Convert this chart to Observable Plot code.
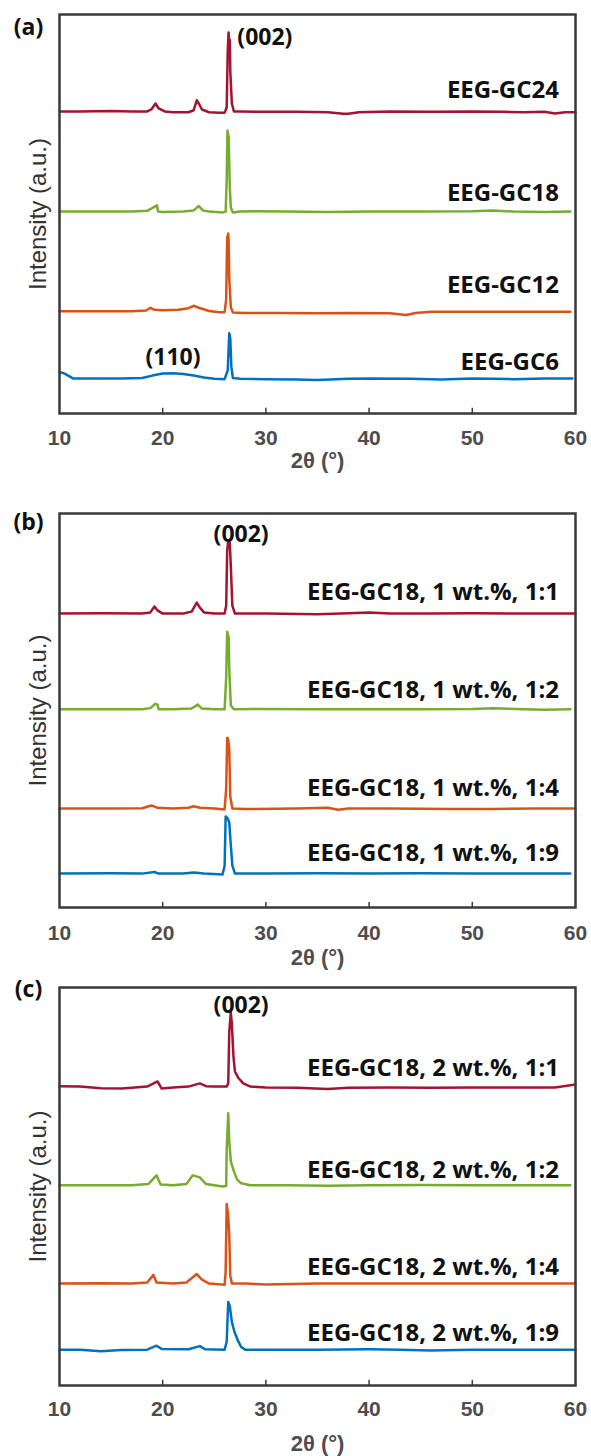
<!DOCTYPE html>
<html>
<head>
<meta charset="utf-8">
<script src="https://cdn.jsdelivr.net/npm/d3@7"></script>
<script src="https://cdn.jsdelivr.net/npm/@observablehq/plot@0.6"></script>
<style>
  html, body { margin: 0; padding: 0; background: white; }
  #chart { width: 591px; }
  #chart svg { display: block; }
  g[aria-label="series-labels"] text { letter-spacing: 0.4px; word-spacing: 3px; }
  g[aria-label="peak-labels"] text, g[aria-label="tag"] text { letter-spacing: 0.5px; }
  g[aria-label="xtitle"] text { letter-spacing: 0.5px; }
</style>
</head>
<body>
<div id="chart"></div>
<script>
// ---------- shared ----------
const xTicks = [10, 20, 30, 40, 50, 60];
const innerTicks = [20, 30, 40, 50];
const seriesColors = ["#A2142F", "#77AC30", "#D95319", "#0072BD"];

// ---------- panel (a) ----------
const aLabels = ["EEG-GC24", "EEG-GC18", "EEG-GC12", "EEG-GC6"];
const aBaselines = [75.7, 50.6, 25.6, 8.8];
const aLabelY = [81, 55.1, 32.1, 12.8];
const aGC24 = [[10,0],[12,0],[15,0.1],[17,0],[18.5,0],[18.9,0.5],[19.3,2.0],[19.6,0.8],[20.2,0],[21,-0.2],[22.5,-0.2],[23.0,0.3],[23.3,2.8],[23.5,2.0],[23.8,0.5],[24.5,-0.2],[25.5,-0.3],[26.0,-0.3],[26.2,1],[26.3,15],[26.38,19.8],[26.42,18.2],[26.5,18],[26.55,10],[26.7,2],[26.9,0],[27.5,0],[30,-0.1],[33,-0.1],[36,-0.2],[37.5,-0.6],[38,-0.6],[39,-0.2],[42,0],[46,-0.1],[50,0],[53,-0.1],[55,-0.2],[57,-0.1],[58,-0.5],[59,-0.2],[60,-0.2]];
const aGC18 = [[10,0],[14,0],[17,0],[18.5,0.2],[19.2,1.2],[19.45,1.6],[19.55,0],[20,-0.1],[22,0],[23.0,0.3],[23.5,1.4],[23.9,0.3],[24.5,0],[25.8,-0.2],[26.1,0],[26.2,8],[26.28,20.3],[26.4,18.5],[26.45,12],[26.5,6],[26.6,1],[26.8,-0.2],[27.5,0],[29,0.1],[32,0],[36,-0.1],[40,0],[45,0],[50,0.1],[52,0.3],[54,0],[57,-0.1],[59.5,0]];
const aGC12 = [[10,0],[14,0],[17,0],[18.4,0.2],[18.8,0.9],[19.2,0.4],[20,0.3],[21.5,0.4],[22.5,0.8],[23.0,1.4],[23.5,0.9],[24.5,0.1],[25.5,-0.2],[26.0,-0.2],[26.15,3],[26.25,18.5],[26.35,19.5],[26.4,17],[26.45,8],[26.6,1],[26.8,-0.3],[28,-0.4],[31,-0.4],[35,-0.5],[38,-0.4],[42,-0.5],[43.6,-0.9],[44.5,-0.4],[46,-0.1],[50,-0.1],[55,-0.1],[59.5,-0.1]];
const aGC6 = [[10,1.6],[10.5,1.2],[11.3,0],[13,0],[16,0],[18,0.1],[19,0.7],[20,1.2],[21,1.3],[22,1.1],[23,0.7],[24,0.2],[25,-0.1],[26,-0.2],[26.3,2],[26.45,11.3],[26.55,10],[26.65,3],[26.8,0.1],[27.5,-0.1],[30,-0.2],[33,-0.3],[35,-0.4],[38,-0.1],[40,0],[44,-0.1],[47,-0.3],[50,0],[54,-0.2],[57,0],[59.7,0]];
const aPeakLabels = ["(002)", "(110)"];
const aPeakX = [29.9, 21.0];
const aPeakY = [94.2, 14.0];

// ---------- panel (b) ----------
const bLabels = ["EEG-GC18, 1 wt.%, 1:1", "EEG-GC18, 1 wt.%, 1:2", "EEG-GC18, 1 wt.%, 1:4", "EEG-GC18, 1 wt.%, 1:9"];
const bBaselines = [74.6, 50.3, 25.1, 8.6];
const bLabelY = [79.9, 55.1, 30.2, 13.7];
const b11 = [[10,0],[14,0.1],[18,0],[18.8,0.3],[19.2,1.8],[19.5,0.8],[20,0],[22,0],[22.8,0.5],[23.3,2.8],[23.6,1.5],[24,0.3],[25,0],[26.0,0],[26.15,2],[26.25,16],[26.35,18.5],[26.5,18],[26.6,12],[26.75,2],[27,0],[30,0],[35,-0.2],[38,0.1],[40,0.3],[42,0],[46,0],[50,0.1],[55,0],[58,0],[60,0]];
const b12 = [[10,0],[15,0],[18,0],[18.8,0.3],[19.3,1.4],[19.5,1.2],[19.6,0],[21,0],[22.8,0.2],[23.4,1.2],[23.8,0.2],[25,0],[26.0,0],[26.15,8],[26.25,19.7],[26.4,18],[26.45,10],[26.6,1],[26.9,0],[29,0.1],[35,0],[40,0],[45,0],[50,0.1],[52,0.3],[55,0],[57,-0.1],[59.5,0]];
const b14 = [[10,0],[15,0],[18,0.1],[18.9,0.8],[19.5,0.2],[21,0],[22.5,0.2],[23.0,0.6],[23.6,0.2],[25,0],[26.0,-0.2],[26.15,5],[26.25,18],[26.35,17.5],[26.45,15],[26.55,3],[26.75,0],[28,-0.1],[33,0],[36,0.2],[37,-0.3],[38,0],[42,0],[48,-0.1],[52,-0.1],[56,0],[60,0]];
const b19 = [[10,0],[15,0.1],[18,0],[19.2,0.4],[19.6,0],[22,0],[23.0,0.3],[24,0],[25.8,-0.2],[26.0,2],[26.1,14.5],[26.3,14],[26.45,13],[26.55,9],[26.75,2],[27,0],[30,0],[35,0.1],[40,0],[45,0.1],[50,0],[55,0],[59.5,0]];
const bPeakLabels = ["(002)"];
const bPeakX = [27.6];
const bPeakY = [94.7];

// ---------- panel (c) ----------
const cLabels = ["EEG-GC18, 2 wt.%, 1:1", "EEG-GC18, 2 wt.%, 1:2", "EEG-GC18, 2 wt.%, 1:4", "EEG-GC18, 2 wt.%, 1:9"];
const cBaselines = [74.9, 50.3, 25.6, 9.0];
const cLabelY = [79.6, 54.0, 29.6, 13.1];
const c11 = [[10,0.3],[12,0.2],[14,-0.2],[16,-0.3],[17,-0.1],[18.5,0.2],[19.5,1.5],[19.9,-0.3],[21,0],[22.5,0.2],[23.6,1],[24.2,0.3],[25,0.2],[26.2,0.2],[26.35,1],[26.45,14],[26.6,18.8],[26.7,16],[26.85,8],[27.0,4],[27.3,2.5],[27.8,1],[28.5,0.2],[30,0],[33,-0.1],[36,-0.4],[38,-0.1],[42,0],[46,-0.1],[50,0],[55,0],[58,0],[60,0.7]];
const c12 = [[10,0],[14,0],[17,0],[18.6,0.3],[19.4,2.5],[19.8,0.2],[21,0],[22.3,0.3],[22.9,2.5],[23.6,2],[24.2,0.3],[25,0],[25.8,-0.3],[26.15,-0.2],[26.2,9],[26.35,18.1],[26.45,11],[26.6,6],[26.9,3.5],[27.2,1.5],[27.6,0.5],[28.5,0],[32,0],[36,-0.1],[40,0],[45,0.1],[50,0],[55,0],[59.5,0]];
const c14 = [[10,0],[14,0.1],[17,0],[18.5,0.3],[19.1,2.2],[19.4,0.3],[21,0],[22.3,0.3],[23.3,2.4],[23.8,1],[24.5,0],[26.0,-0.3],[26.1,3],[26.2,20],[26.35,17],[26.45,12],[26.55,2],[26.7,0],[28,0],[30,-0.2],[35,0],[40,0],[45,0],[50,0],[55,0],[60,0]];
const c19 = [[10,0],[12,0],[14,-0.4],[16,-0.1],[18.5,0],[19.4,1],[19.9,0.2],[22.5,0.1],[23.6,0.9],[24.1,0.1],[26.0,0],[26.2,2],[26.35,12],[26.5,11],[26.7,7],[26.95,4.5],[27.3,2.2],[27.6,0.7],[28,0],[30,0],[35,0],[40,0.1],[43,0],[46,-0.2],[50,0],[55,0],[60,0]];
const cPeakLabels = ["(002)"];
const cPeakX = [27.6];
const cPeakY = [95.5];

const panels = [
  {tag: "(a)", labels: aLabels, baselines: aBaselines, labelY: aLabelY, curves: [aGC24, aGC18, aGC12, aGC6],
   peakLabels: aPeakLabels, peakX: aPeakX, peakY: aPeakY,
   height: 480, marginTop: 14, marginBottom: 67, tagDy: 13, tickPad: 17, titleDy: 47},
  {tag: "(b)", labels: bLabels, baselines: bBaselines, labelY: bLabelY, curves: [b11, b12, b14, b19],
   peakLabels: bPeakLabels, peakX: bPeakX, peakY: bPeakY,
   height: 480, marginTop: 33, marginBottom: 53, tagDy: 9, tickPad: 18, titleDy: 50},
  {tag: "(c)", labels: cLabels, baselines: cBaselines, labelY: cLabelY, curves: [c11, c12, c14, c19],
   peakLabels: cPeakLabels, peakX: cPeakX, peakY: cPeakY,
   height: 496, marginTop: 27, marginBottom: 71, tagDy: 2, tickPad: 16, titleDy: 58}
];

const frameColor = "#3a3a3a";
const tickColor = "#4d4d4d";
const labelFont = "'Open Sans', sans-serif";

for (const p of panels) {
  const rows = [];
  p.curves.forEach((curve, i) => {
    for (const [x, v] of curve) rows.push({x, y: p.baselines[i] + v, key: p.labels[i]});
  });
  const labelRows = p.labels.map((t, i) => ({t, y: p.labelY[i]}));
  const peakRows = p.peakLabels.map((t, i) => ({t, x: p.peakX[i], y: p.peakY[i]}));

  const svg = Plot.plot({
    width: 591,
    height: p.height,
    marginLeft: 59,
    marginRight: 16,
    marginTop: p.marginTop,
    marginBottom: p.marginBottom,
    style: {background: "white", fontFamily: "'Liberation Sans', Arial, sans-serif", overflow: "visible"},
    x: {domain: [10, 60]},
    y: {domain: [0, 100], axis: null},
    color: {domain: p.labels, range: seriesColors},
    marks: [
      Plot.line(rows, {x: "x", y: "y", z: "key", stroke: "key", strokeWidth: 2.5, curve: "linear", strokeLinejoin: "round"}),
      Plot.ruleX(innerTicks, {x: d => d, y1: 0, y2: 1.3, stroke: frameColor, strokeWidth: 1.5}),
      Plot.frame({stroke: frameColor, strokeWidth: 2.5}),
      Plot.axisX({ticks: xTicks, tickSize: 0, tickPadding: p.tickPad, fontSize: 21, fontWeight: "bold", fill: tickColor, label: null, tickFormat: d => String(d)}),
      Plot.text(["2θ (°)"], {frameAnchor: "bottom", dy: p.titleDy, lineAnchor: "middle", textAnchor: "middle", fontSize: 22, fontWeight: "bold", fill: tickColor, ariaLabel: "xtitle"}),
      Plot.text(["Intensity (a.u.)"], {frameAnchor: "left", dx: -21, rotate: -90, textAnchor: "middle", lineAnchor: "middle", fontSize: 24, fill: "#333", ariaLabel: "ylabel"}),
      Plot.text(labelRows, {x: 58.4, y: "y", text: "t", textAnchor: "end", fontSize: 24, fontWeight: "bold", fill: "#111", fontFamily: labelFont, ariaLabel: "series-labels"}),
      Plot.text(peakRows, {x: "x", y: "y", text: "t", fontSize: 23, fontWeight: "bold", fill: "#111", fontFamily: labelFont, ariaLabel: "peak-labels"}),
      Plot.text([p.tag], {frameAnchor: "top-left", dx: -31, dy: p.tagDy, textAnchor: "middle", lineAnchor: "middle", fontSize: 23, fontWeight: "bold", fill: "#111", fontFamily: labelFont, ariaLabel: "tag"})
    ]
  });
  document.getElementById("chart").appendChild(svg);
}
</script>
</body>
</html>
